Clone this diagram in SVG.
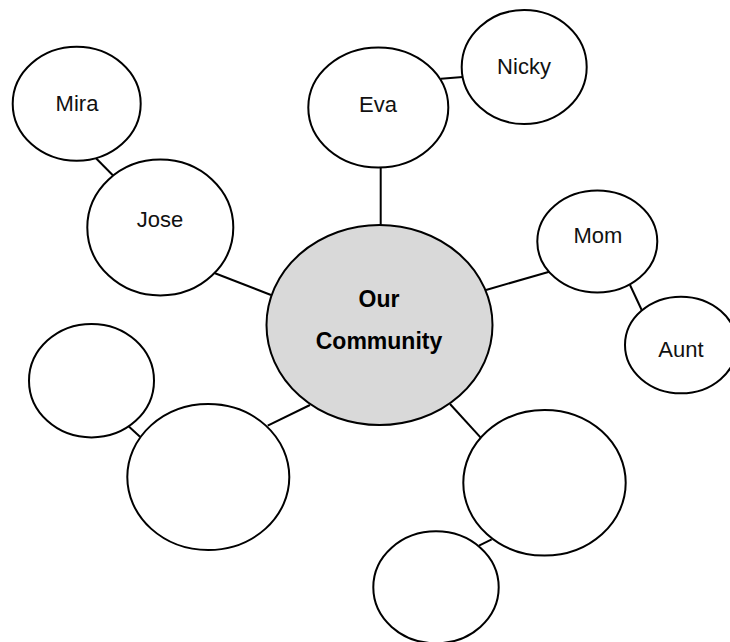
<svg xmlns="http://www.w3.org/2000/svg" width="730" height="642" viewBox="0 0 730 642">
<style>
.n{fill:#fff;stroke:#000;stroke-width:2}
.c{fill:#d9d9d9;stroke:#000;stroke-width:2}
.l{stroke:#000;stroke-width:2;fill:none}
.t{font-family:"Liberation Sans",Arial,sans-serif;font-size:22px;fill:#111;text-anchor:middle}
.b{font-family:"Liberation Sans",Arial,sans-serif;font-size:23px;font-weight:bold;fill:#000;text-anchor:middle}
</style>
<rect width="730" height="642" fill="#fff"/>
<g id="connectors">
<line class="l" x1="96" y1="158.3" x2="114.3" y2="176.7"/>
<line class="l" x1="215" y1="273.3" x2="271" y2="295"/>
<line class="l" x1="441" y1="78.7" x2="462.7" y2="77"/>
<line class="l" x1="380.7" y1="167" x2="380.7" y2="225.5"/>
<line class="l" x1="486" y1="290" x2="549.3" y2="271.7"/>
<line class="l" x1="630" y1="285" x2="641.7" y2="310"/>
<line class="l" x1="128.3" y1="426" x2="140" y2="436.7"/>
<line class="l" x1="267.7" y1="425.7" x2="310" y2="405"/>
<line class="l" x1="450" y1="404" x2="480.7" y2="437.7"/>
<line class="l" x1="479" y1="545.7" x2="491.7" y2="539.3"/>
</g>
<g id="center"><ellipse class="c" cx="379.5" cy="325" rx="113" ry="100"/><text class="b" x="379" y="307">Our</text><text class="b" x="379" y="349">Community</text></g>
<g id="mira"><ellipse class="n" cx="76.7" cy="103.7" rx="64" ry="57"/><text class="t" x="77" y="111">Mira</text></g>
<g id="jose"><ellipse class="n" cx="160.3" cy="227.5" rx="73" ry="68"/><text class="t" x="160" y="227">Jose</text></g>
<g id="eva"><ellipse class="n" cx="378.3" cy="107.5" rx="70" ry="60"/><text class="t" x="378" y="112">Eva</text></g>
<g id="nicky"><ellipse class="n" cx="524.2" cy="67" rx="62.5" ry="57"/><text class="t" x="524" y="74">Nicky</text></g>
<g id="mom"><ellipse class="n" cx="597.3" cy="241.5" rx="60" ry="51"/><text class="t" x="598" y="243">Mom</text></g>
<g id="aunt"><ellipse class="n" cx="681" cy="345" rx="56" ry="48.3"/><text class="t" x="681" y="357">Aunt</text></g>
<g id="left-small"><ellipse class="n" cx="91.5" cy="380.7" rx="62.5" ry="56.7"/></g>
<g id="left-big"><ellipse class="n" cx="208.3" cy="477" rx="81" ry="73"/></g>
<g id="right-big"><ellipse class="n" cx="544.5" cy="482.8" rx="81.2" ry="72.8"/></g>
<g id="bottom-small"><ellipse class="n" cx="436" cy="587.3" rx="62.7" ry="56"/></g>
</svg>
